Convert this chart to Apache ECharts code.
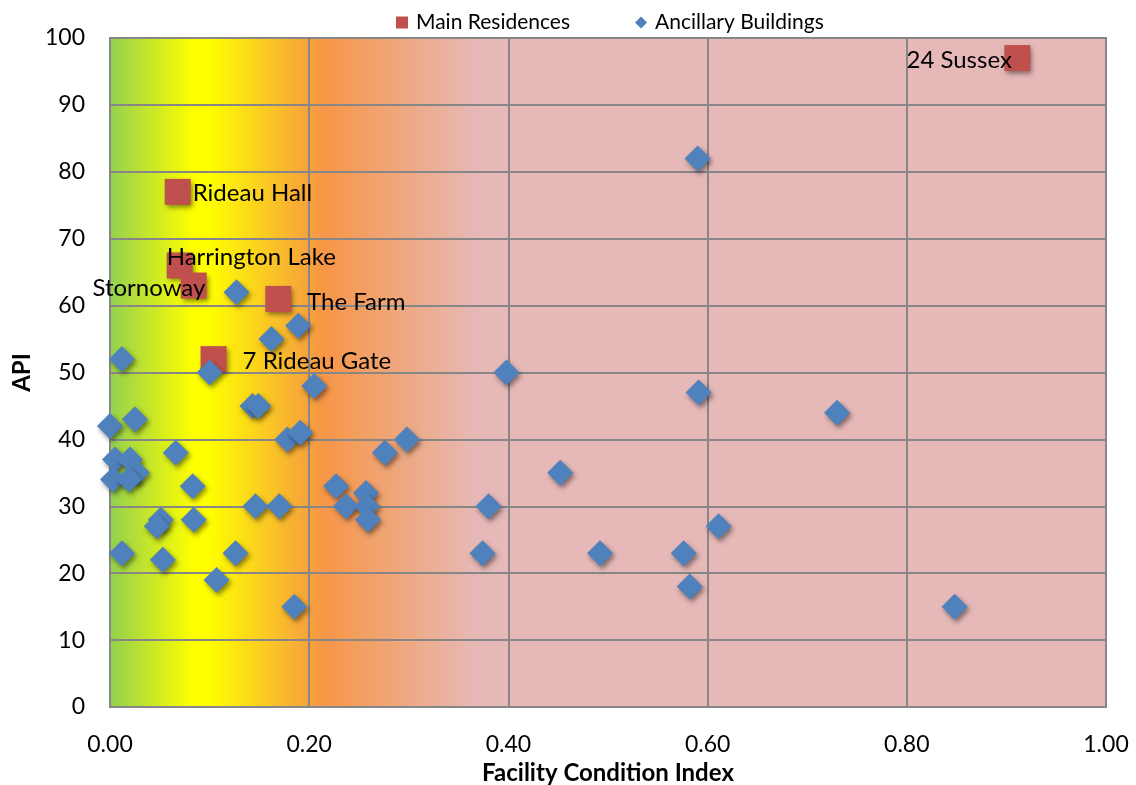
<!DOCTYPE html>
<html>
<head>
<meta charset="utf-8">
<title>Facility Condition Index vs API</title>
<script src="https://cdn.jsdelivr.net/npm/echarts@6/dist/echarts.min.js"></script>
<style>
  html, body { margin: 0; padding: 0; background: #ffffff; }
  #chart { width: 1136px; height: 785px; }
</style>
</head>
<body>
<div id="chart"></div>
<script>
// Main residences: name, FCI, API
const residenceNames = ['24 Sussex', 'Rideau Hall', 'Harrington Lake', 'Stornoway', 'The Farm', '7 Rideau Gate'];
const residenceFCI   = [0.911, 0.068, 0.070, 0.084, 0.169, 0.104];
const residenceAPI   = [97, 77, 66, 63, 61, 52];

// Ancillary buildings: FCI, API
const ancillaryFCI = [
  0.590, 0.127, 0.162, 0.189, 0.012, 0.100, 0.205, 0.398, 0.591, 0.730,
  0.000, 0.025, 0.143, 0.149, 0.178, 0.191, 0.298, 0.066, 0.276, 0.005,
  0.020, 0.027, 0.003, 0.019, 0.083, 0.227, 0.257, 0.452, 0.237, 0.258,
  0.380, 0.146, 0.170, 0.051, 0.047, 0.084, 0.259, 0.611, 0.012, 0.126,
  0.374, 0.492, 0.576, 0.053, 0.107, 0.582, 0.185, 0.848
];
const ancillaryAPI = [
  82, 62, 55, 57, 52, 50, 48, 50, 47, 44,
  42, 43, 45, 45, 40, 41, 40, 38, 38, 37,
  37, 35, 34, 34, 33, 33, 32, 35, 30, 30,
  30, 30, 30, 28, 27, 28, 28, 27, 23, 23,
  23, 23, 23, 22, 19, 18, 15, 15
];

const xTicks = { min: 0, max: 1, step: 0.2 };
const yTicks = { min: 0, max: 100, step: 10 };

const FONT = 'Lato';
const SYMBOL = 26;

// Label anchor for each residence, relative to the marker's box
const labelPlacement = {
  '24 Sussex':       { position: [7.5, 15],    align: 'right' },
  'Rideau Hall':     { position: [28, 14],     align: 'left'  },
  'Harrington Lake': { position: [0, 5],       align: 'left'  },
  'Stornoway':       { position: [24.7, 15.4], align: 'right' },
  'The Farm':        { position: [41.7, 16.7], align: 'left'  },
  '7 Rideau Gate':   { position: [42, 15],     align: 'left'  }
};

const residenceData = residenceNames.map((name, i) => ({
  name: name,
  value: [residenceFCI[i], residenceAPI[i]],
  label: {
    show: true,
    formatter: name,
    position: labelPlacement[name].position,
    align: labelPlacement[name].align,
    verticalAlign: 'middle',
    fontFamily: FONT,
    fontSize: 24,
    color: '#000000'
  }
}));

const ancillaryData = ancillaryFCI.map((x, i) => [x, ancillaryAPI[i]]);

const markerShadow = {
  shadowColor: 'rgba(0, 0, 0, 0.45)',
  shadowBlur: 5,
  shadowOffsetX: 2,
  shadowOffsetY: 3
};

// Condition bands: green (good) through yellow and orange to pink (poor)
const conditionGradient = new echarts.graphic.LinearGradient(0, 0, 1, 0, [
  { offset: 0.00, color: '#92D050' },
  { offset: 0.085, color: '#FFFF00' },
  { offset: 0.10, color: '#FFFF00' },
  { offset: 0.20, color: '#F7A23C' },
  { offset: 0.215, color: '#F79646' },
  { offset: 0.37, color: '#E6B9B8' },
  { offset: 1.00, color: '#E6B9B8' }
]);

const gridLine = { color: '#878787', width: 2 };

const chart = echarts.init(document.getElementById('chart'), null, { renderer: 'canvas' });

chart.setOption({
  animation: false,
  backgroundColor: '#ffffff',
  textStyle: { fontFamily: FONT },
  legend: {
    top: 7,
    left: 391,
    itemWidth: 12,
    itemHeight: 12,
    itemGap: 65,
    textStyle: { fontFamily: FONT, fontSize: 21, color: '#000000', padding: [0, 0, 0, 3] },
    data: [
      { name: 'Main Residences', icon: 'rect' },
      { name: 'Ancillary Buildings', icon: 'diamond' }
    ]
  },
  grid: {
    left: 110,
    right: 30,
    top: 38,
    bottom: 78,
    outerBoundsMode: 'none',
    show: true,
    backgroundColor: conditionGradient,
    borderColor: '#878787',
    borderWidth: 2
  },
  xAxis: {
    type: 'value',
    min: xTicks.min,
    max: xTicks.max,
    interval: xTicks.step,
    name: 'Facility Condition Index',
    nameLocation: 'middle',
    nameGap: 48,
    nameTextStyle: { fontFamily: FONT, fontSize: 24, fontWeight: 'bold', color: '#000000' },
    axisLine: { show: false },
    axisTick: { show: false },
    axisLabel: {
      margin: 26,
      fontFamily: FONT,
      fontSize: 23,
      color: '#000000',
      formatter: v => v.toFixed(2)
    },
    splitLine: { show: true, lineStyle: gridLine }
  },
  yAxis: {
    type: 'value',
    min: yTicks.min,
    max: yTicks.max,
    interval: yTicks.step,
    name: 'API',
    nameLocation: 'middle',
    nameGap: 76,
    nameTextStyle: { fontFamily: FONT, fontSize: 24, fontWeight: 'bold', color: '#000000' },
    axisLine: { show: false },
    axisTick: { show: false },
    axisLabel: {
      margin: 25,
      fontFamily: FONT,
      fontSize: 23,
      color: '#000000'
    },
    splitLine: { show: true, lineStyle: gridLine }
  },
  series: [
    {
      name: 'Main Residences',
      type: 'scatter',
      symbol: 'rect',
      symbolSize: SYMBOL,
      itemStyle: Object.assign({ color: '#C0504D', opacity: 1 }, markerShadow),
      data: residenceData
    },
    {
      name: 'Ancillary Buildings',
      type: 'scatter',
      symbol: 'diamond',
      symbolSize: SYMBOL,
      itemStyle: Object.assign({ color: '#4F81BD', opacity: 1 }, markerShadow),
      data: ancillaryData
    }
  ]
});
</script>
</body>
</html>
